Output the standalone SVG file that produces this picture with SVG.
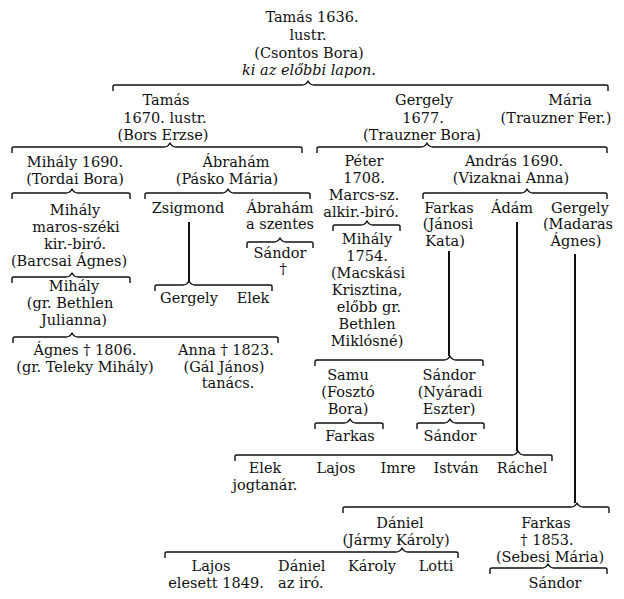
<svg xmlns="http://www.w3.org/2000/svg" width="624" height="599" viewBox="0 0 624 599">
<style>
text{font-family:"DejaVu Serif","Liberation Serif",serif;font-size:14.5px;fill:#111;text-anchor:middle}
.l{text-anchor:start}
.i{font-style:italic}
.br{fill:none;stroke:#111;stroke-width:1.4;stroke-linejoin:round}
.v{stroke:#111;stroke-width:2}
</style>
<rect width="624" height="599" fill="#fff"/>
<g id="connectors">
<path class="br" d="M113 91V86.5Q113 85 115 85H302Q306 85 308 81Q310 85 314 85H606Q608 85 608 86.5V91"/>
<path class="br" d="M12 153V148.5Q12 147 14 147H164Q168 147 170 143Q172 147 176 147H300Q302 147 302 148.5V153"/>
<path class="br" d="M317 153V148.5Q317 147 319 147H421Q425 147 427 143Q429 147 433 147H605Q607 147 607 148.5V153"/>
<path class="br" d="M12 199V194.5Q12 193 14 193H66Q70 193 72 189Q74 193 78 193H128Q130 193 130 194.5V199"/>
<path class="br" d="M145 199V194.5Q145 193 147 193H222Q226 193 228 189Q230 193 234 193H308Q310 193 310 194.5V199"/>
<path class="br" d="M423 199V194.5Q423 193 425 193H521Q525 193 527 189Q529 193 533 193H605Q607 193 607 194.5V199"/>
<path class="br" d="M12 283V278.5Q12 277 14 277H66Q70 277 72 273Q74 277 78 277H128Q130 277 130 278.5V283"/>
<path class="br" d="M13 343V338.5Q13 337 15 337H66Q70 337 72 333Q74 337 78 337H276Q278 337 278 338.5V343"/>
<path class="br" d="M247 248V243.5Q247 242 249 242H274Q278 242 280 238Q282 242 286 242H311Q313 242 313 243.5V248"/>
<path class="br" d="M155 291V286.5Q155 285 157 285H183Q187 285 189 281Q191 285 195 285H270Q272 285 272 286.5V291"/>
<path class="br" d="M333 231V226.5Q333 225 335 225H361Q365 225 367 221Q369 225 373 225H398Q400 225 400 226.5V231"/>
<path class="br" d="M315 366V361.5Q315 360 317 360H444Q448 360 450 356Q452 360 456 360H481Q483 360 483 361.5V366"/>
<path class="br" d="M315 429V424.5Q315 423 317 423H344Q348 423 350 419Q352 423 356 423H381Q383 423 383 424.5V429"/>
<path class="br" d="M417 429V424.5Q417 423 419 423H444Q448 423 450 419Q452 423 456 423H482Q484 423 484 424.5V429"/>
<path class="br" d="M235 461V456.5Q235 455 237 455H512Q516 455 518 451Q520 455 524 455H550Q552 455 552 456.5V461"/>
<path class="br" d="M343 513V508.5Q343 507 345 507H571Q575 507 577 503Q579 507 583 507H607Q609 507 609 508.5V513"/>
<path class="br" d="M165 558V553.5Q165 552 167 552H396Q400 552 402 548Q404 552 408 552H456Q458 552 458 553.5V558"/>
<path class="br" d="M490 574V569.5Q490 568 492 568H542Q546 568 548 564Q550 568 554 568H605Q607 568 607 569.5V574"/>
<line class="v" x1="189" y1="222" x2="189" y2="281"/>
<line class="v" x1="449" y1="251" x2="449" y2="356"/>
<line class="v" x1="517" y1="222" x2="517" y2="451"/>
<line class="v" x1="575" y1="254" x2="575" y2="503"/>
</g>
<g id="tamas1636"><text x="312" y="22">Tamás 1636.</text><text x="308" y="40">lustr.</text><text x="309" y="58">(Csontos Bora)</text><text class="i" x="309" y="75">ki az előbbi lapon.</text></g>
<g id="tamas1670"><text x="166" y="105">Tamás</text><text x="165" y="123">1670. lustr.</text><text x="163" y="140">(Bors Erzse)</text></g>
<g id="gergely1677"><text x="424" y="105">Gergely</text><text x="423" y="123">1677.</text><text x="422" y="140">(Trauzner Bora)</text></g>
<g id="maria"><text x="570" y="105">Mária</text><text x="556" y="123">(Trauzner Fer.)</text></g>
<g id="mihaly1690"><text x="75" y="167">Mihály 1690.</text><text x="75" y="184">(Tordai Bora)</text></g>
<g id="abraham"><text x="236" y="167">Ábrahám</text><text x="227" y="184">(Pásko Mária)</text></g>
<g id="peter"><text x="364" y="166">Péter</text><text x="364" y="183">1708.</text><text x="364" y="200">Marcs-sz.</text><text x="361" y="217">alkir.-biró.</text></g>
<g id="andras"><text x="514" y="166">András 1690.</text><text x="511" y="183">(Vizaknai Anna)</text></g>
<g id="mihaly-kirbiro"><text x="75" y="215">Mihály</text><text x="76" y="232">maros-széki</text><text x="75" y="249">kir.-biró.</text><text x="69" y="266">(Barcsai Ágnes)</text></g>
<g id="zsigmond"><text x="188" y="213">Zsigmond</text></g>
<g id="abraham2"><text x="280" y="213">Ábrahám</text><text x="280" y="229">a szentes</text></g>
<g id="sandor-abr"><text x="280" y="258">Sándor</text><text x="283" y="274">†</text></g>
<g id="farkas-janosi"><text x="449" y="213">Farkas</text><text x="448" y="229">(Jánosi</text><text x="445" y="246">Kata)</text></g>
<g id="adam"><text x="512" y="213">Ádám</text></g>
<g id="gergely-madaras"><text x="580" y="213">Gergely</text><text x="578" y="229">(Madaras</text><text x="576" y="246">Ágnes)</text></g>
<g id="mihaly-bethlen"><text x="74" y="291">Mihály</text><text x="70" y="308">(gr. Bethlen</text><text x="74" y="325">Julianna)</text></g>
<g id="gergely-zs"><text x="189" y="303">Gergely</text></g>
<g id="elek-zs"><text x="253" y="303">Elek</text></g>
<g id="mihaly1754"><text x="367" y="244">Mihály</text><text x="367" y="261">1754.</text><text x="368" y="278">(Macskási</text><text x="367" y="295">Krisztina,</text><text x="369" y="312">előbb gr.</text><text x="367" y="329">Bethlen</text><text x="367" y="346">Miklósné)</text></g>
<g id="agnes"><text x="85" y="355">Ágnes † 1806.</text><text x="85" y="372">(gr. Teleky Mihály)</text></g>
<g id="anna"><text x="226" y="355">Anna † 1823.</text><text x="224" y="372">(Gál János)</text><text x="228" y="388">tanács.</text></g>
<g id="samu"><text x="348" y="380">Samu</text><text x="348" y="397">(Fosztó</text><text x="348" y="414">Bora)</text></g>
<g id="sandor-nyaradi"><text x="449" y="380">Sándor</text><text x="450" y="397">(Nyáradi</text><text x="449" y="414">Eszter)</text></g>
<g id="farkas-samu"><text x="350" y="441">Farkas</text></g>
<g id="sandor-s"><text x="450" y="441">Sándor</text></g>
<g id="elek"><text x="265" y="473">Elek</text><text x="265" y="490">jogtanár.</text></g>
<g id="lajos"><text x="336" y="473">Lajos</text></g>
<g id="imre"><text x="398" y="473">Imre</text></g>
<g id="istvan"><text x="456" y="473">István</text></g>
<g id="rachel"><text x="522" y="473">Ráchel</text></g>
<g id="daniel"><text x="400" y="528">Dániel</text><text x="396" y="545">(Jármy Károly)</text></g>
<g id="farkas1853"><text x="546" y="528">Farkas</text><text x="547" y="545">† 1853.</text><text x="550" y="562">(Sebesi Mária)</text></g>
<g id="lajos1849"><text x="211" y="571">Lajos</text><text x="216" y="588">elesett 1849.</text></g>
<g id="daniel-iro"><text class="l" x="278" y="571">Dániel</text><text class="l" x="278" y="588">az iró.</text></g>
<g id="karoly"><text x="372" y="571">Károly</text></g>
<g id="lotti"><text x="436" y="571">Lotti</text></g>
<g id="sandor-f"><text x="555" y="588">Sándor</text></g>
</svg>
